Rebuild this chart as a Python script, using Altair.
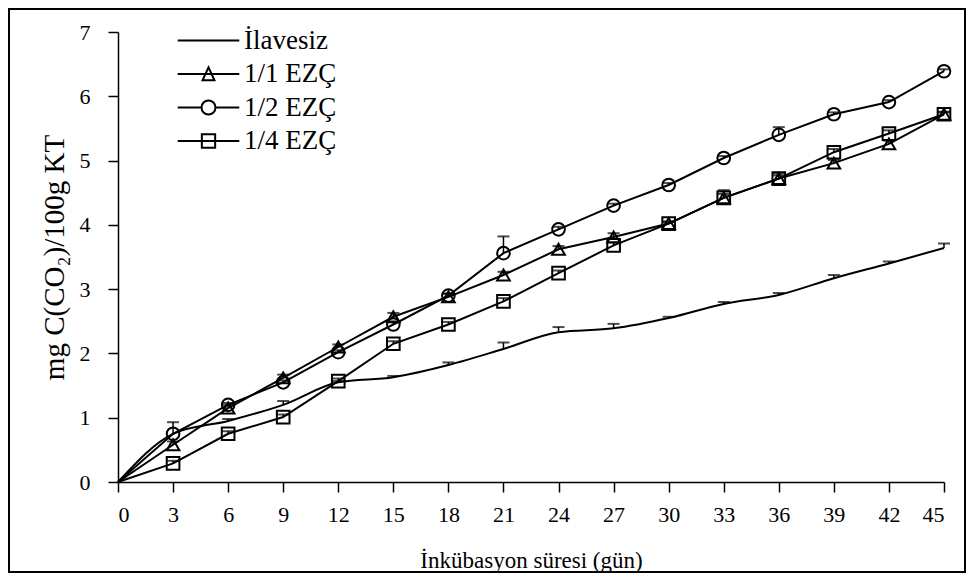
import altair as alt
import pandas as pd

days = [0, 3, 6, 9, 12, 15, 18, 21, 24, 27, 30, 33, 36, 39, 42, 45]
series_names = ["İlavesiz", "1/1 EZÇ", "1/2 EZÇ", "1/4 EZÇ"]

ilavesiz = [0, 0.75, 0.95, 1.20, 1.55, 1.63, 1.82, 2.07, 2.33, 2.39, 2.55, 2.77, 2.91, 3.17, 3.40, 3.64]
ilavesiz_err = [0, 0, 0.03, 0.06, 0.02, 0.02, 0.04, 0.10, 0.08, 0.07, 0.02, 0.03, 0.03, 0.05, 0.03, 0.07]

ezc_11 = [0, 0.58, 1.15, 1.62, 2.10, 2.57, 2.88, 3.22, 3.62, 3.81, 4.02, 4.42, 4.72, 4.96, 5.26, 5.72]
ezc_11_err = [0, 0.05, 0.05, 0.05, 0.04, 0.06, 0.05, 0.05, 0.05, 0.06, 0.03, 0.06, 0.05, 0.05, 0.05, 0.03]

ezc_12 = [0, 0.75, 1.20, 1.55, 2.02, 2.45, 2.90, 3.56, 3.93, 4.30, 4.62, 5.04, 5.40, 5.72, 5.91, 6.39]
ezc_12_err = [0, 0.18, 0.03, 0.03, 0.03, 0.05, 0.03, 0.26, 0.04, 0.03, 0.03, 0.03, 0.12, 0.03, 0.03, 0.03]

ezc_14 = [0, 0.29, 0.75, 1.01, 1.57, 2.15, 2.45, 2.81, 3.25, 3.68, 4.02, 4.42, 4.72, 5.13, 5.42, 5.72]
ezc_14_err = [0, 0.04, 0.04, 0.04, 0.04, 0.04, 0.04, 0.05, 0.04, 0.05, 0.03, 0.12, 0.08, 0.05, 0.05, 0.04]

x_ticks = days
y_ticks = [0, 1, 2, 3, 4, 5, 6, 7]

values = [ilavesiz, ezc_11, ezc_12, ezc_14]
errors = [ilavesiz_err, ezc_11_err, ezc_12_err, ezc_14_err]

rows = []
for name, vals, errs in zip(series_names, values, errors):
    for d, v, e in zip(days, vals, errs):
        rows.append({"day": d, "value": v, "err": e, "top": v + e, "series": name})
df = pd.DataFrame(rows)

FONT = "Liberation Serif"

x_enc = alt.X("day:Q", scale=alt.Scale(domain=[0, 45], nice=False),
              axis=alt.Axis(values=x_ticks, title="İnkübasyon süresi (gün)", format="d",
                            labelPadding=12, labelFontSize=22, titleFontSize=23,
                            titleY=78, titleBaseline="middle"))
y_enc = alt.Y("value:Q", scale=alt.Scale(domain=[0, 7], nice=False),
              axis=alt.Axis(values=y_ticks, title="mg C(CO₂)/100g KT", format="d",
                            labelPadding=18, labelFontSize=22, titleFontSize=29,
                            titleX=-64, titleBaseline="middle"))

base = alt.Chart(df)

line_ilav = base.transform_filter("datum.series == 'İlavesiz'").mark_line(
    color="black", strokeWidth=2, interpolate="monotone"
).encode(x=x_enc, y=y_enc)

lines = base.transform_filter("datum.series != 'İlavesiz'").mark_line(
    color="black", strokeWidth=2
).encode(x="day:Q", y="value:Q", detail="series:N")

err_df = base.transform_filter("datum.err > 0")
err_rules = err_df.mark_rule(color="black", strokeWidth=1.5).encode(
    x="day:Q", y="value:Q", y2="top:Q"
)
err_caps = err_df.mark_tick(color="black", orient="horizontal", size=12, thickness=2).encode(
    x="day:Q", y="top:Q"
)

points = base.transform_filter(
    "datum.day > 0 && datum.series != 'İlavesiz'"
).mark_point(filled=False, color="black", strokeWidth=2, size=160, opacity=1).encode(
    x="day:Q", y="value:Q",
    shape=alt.Shape("series:N",
                    scale=alt.Scale(domain=series_names[1:],
                                    range=["triangle-up", "circle", "square"]),
                    legend=None)
)

legend_paths = [
    "M-4.4,0H4.4",
    "M-4.4,0H4.4M0,-0.95L0.85,0.9H-0.85Z",
    "M-4.4,0H-1M1,0H4.4M1,0A1,1 0 1 1 -1,0A1,1 0 1 1 1,0",
    "M-4.4,0H4.4M-0.95,-0.95H0.95V0.95H-0.95Z",
]

legend_layer = base.mark_point(opacity=0).encode(
    x="day:Q", y="value:Q",
    shape=alt.Shape("series:N",
                    scale=alt.Scale(domain=series_names, range=legend_paths),
                    sort=series_names,
                    legend=alt.Legend(title=None, orient="none", legendX=77, legendY=-5,
                                      padding=0, symbolSize=196, symbolStrokeWidth=2,
                                      symbolStrokeColor="black", symbolFillColor="transparent",
                                      symbolOpacity=1, labelOffset=22, rowPadding=5.5,
                                      labelFont=FONT, labelFontSize=27, labelColor="black"))
)

frame = alt.Chart(pd.DataFrame({"k": [0]})).mark_rect(
    fill="transparent", stroke="black", strokeWidth=2
).encode(x=alt.value(-109), x2=alt.value(847), y=alt.value(-23), y2=alt.value(540))

chart = alt.layer(
    line_ilav, lines, err_rules, err_caps, points, legend_layer, frame
).resolve_scale(shape="independent").properties(
    width=826, height=450,
    autosize=alt.AutoSizeParams(type="none"),
    padding={"left": 110, "top": 24, "right": 22, "bottom": 91},
).configure(font=FONT).configure_view(stroke=None).configure_axis(
    grid=False, domainColor="black", domainWidth=1.5, tickColor="black", tickWidth=1.5,
    tickSize=10, labelColor="black", titleColor="black", labelFont=FONT, titleFont=FONT,
    titleFontWeight="normal"
)

chart.save("out.html", embed_options={"renderer": "svg", "actions": False})
